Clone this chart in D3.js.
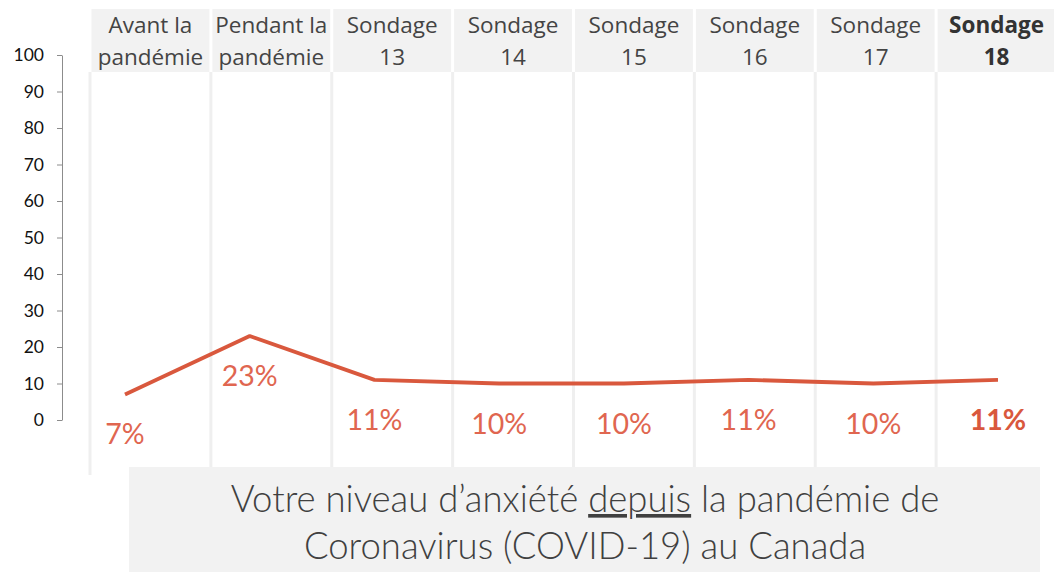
<!DOCTYPE html>
<html>
<head>
<meta charset="utf-8">
<script src="https://cdn.jsdelivr.net/npm/d3@7"></script>
<style>
  body { margin: 0; background: #fff; }
  svg { display: block; font-family: Lato, "Noto Sans", sans-serif; }
</style>
</head>
<body>
<div id="svg-container"></div>
<script>
// data
const categories = ["avant", "pendant", "s13", "s14", "s15", "s16", "s17", "s18"];
const headerLine1 = ["Avant la", "Pendant la", "Sondage", "Sondage", "Sondage", "Sondage", "Sondage", "Sondage"];
const headerLine2 = ["pandémie", "pandémie", "13", "14", "15", "16", "17", "18"];
const values = [7, 23, 11, 10, 10, 11, 10, 11];
const yTicks = [0, 10, 20, 30, 40, 50, 60, 70, 80, 90, 100];

const width = 1054;
const height = 572;

const svg = d3.select("#svg-container").append("svg")
  .attr("width", width).attr("height", height);

// scales
const colScale = d3.scaleBand().domain(categories).range([90, 1057]);
const xScale = d3.scalePoint().domain(categories).range([125, 998]);
const yScale = d3.scaleLinear().domain([0, 100]).range([420, 55]);

// header cells
svg.selectAll(".hdr")
  .data(categories)
  .enter()
  .append("rect")
  .attr("x", (d) => colScale(d) + 1.5)
  .attr("y", 9)
  .attr("width", colScale.bandwidth() - 3)
  .attr("height", 63)
  .attr("fill", "#f2f2f2");

// vertical separators
svg.selectAll(".sep")
  .data(categories)
  .enter()
  .append("line")
  .attr("x1", (d) => colScale(d))
  .attr("x2", (d) => colScale(d))
  .attr("y1", 72)
  .attr("y2", (d, i) => (i === 0 ? 475 : 467))
  .attr("stroke", "#efefef")
  .attr("stroke-width", 3);

// header texts
const hdrText = svg.selectAll(".hdr-text")
  .data(categories)
  .enter()
  .append("text")
  .attr("text-anchor", "middle")
  .attr("font-family", "'Open Sans', 'Noto Sans', sans-serif")
  .attr("fill", (d, i) => (i === 7 ? "#333" : "#444"))
  .attr("font-weight", (d, i) => (i === 7 ? "bold" : "normal"))
  .attr("font-size", 22.5);

hdrText.append("tspan")
  .attr("x", (d) => colScale(d) + colScale.bandwidth() / 2)
  .attr("y", 33)
  .text((d, i) => headerLine1[i]);

hdrText.append("tspan")
  .attr("x", (d) => colScale(d) + colScale.bandwidth() / 2)
  .attr("y", 65)
  .text((d, i) => headerLine2[i]);

// y axis
const yAxis = d3.axisLeft(yScale).tickValues(yTicks).tickSize(5).tickSizeOuter(0).tickPadding(13);
const gy = svg.append("g")
  .attr("transform", "translate(62,0)")
  .call(yAxis);
gy.select(".domain").attr("stroke", "#8c8c8c");
gy.selectAll(".tick line").attr("stroke", "#8c8c8c");
gy.selectAll(".tick text")
  .attr("font-size", 17.5)
  .attr("font-family", "Lato, sans-serif")
  .attr("fill", "#111");

// bottom title box
svg.append("rect")
  .attr("x", 129).attr("y", 467)
  .attr("width", 911).attr("height", 105)
  .attr("fill", "#f2f2f2");

const title = svg.append("text")
  .attr("text-anchor", "middle")
  .attr("font-size", 36.5)
  .attr("font-weight", 300)
  .attr("fill", "#404040");

const t1 = title.append("tspan").attr("x", 585).attr("y", 512);
t1.append("tspan").text("Votre niveau d’anxiété ");
t1.append("tspan").attr("text-decoration", "underline").text("depuis");
t1.append("tspan").text(" la pandémie de");
title.append("tspan").attr("x", 585).attr("y", 559).text("Coronavirus (COVID-19) au Canada");

// line
const line = d3.line()
  .x((d, i) => xScale(categories[i]))
  .y((d) => yScale(d));

svg.append("path")
  .datum(values)
  .attr("d", line)
  .attr("fill", "none")
  .attr("stroke", "#d9583d")
  .attr("stroke-width", 3.8)
  .attr("stroke-linejoin", "round");

// labels
svg.selectAll(".lbl")
  .data(values)
  .enter()
  .append("text")
  .attr("x", (d, i) => xScale(categories[i]))
  .attr("y", (d) => yScale(d) + 50)
  .attr("text-anchor", "middle")
  .attr("font-size", 28.5)
  .attr("font-weight", (d, i) => (i === 7 ? "bold" : "normal"))
  .attr("fill", (d, i) => (i === 7 ? "#d9583d" : "#e06650"))
  .text((d) => d + "%");
</script>
</body>
</html>
